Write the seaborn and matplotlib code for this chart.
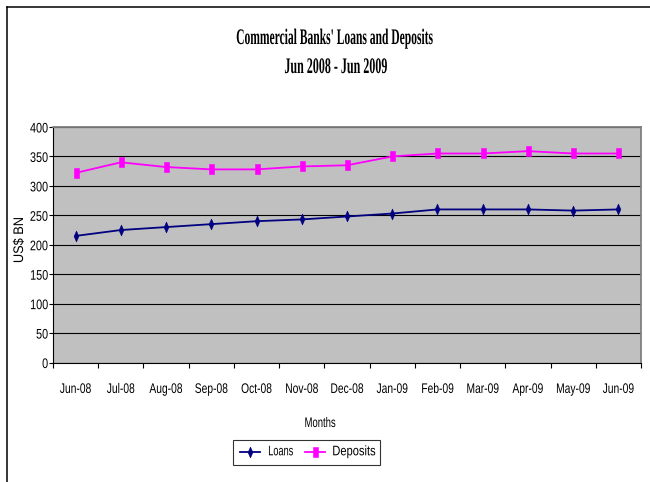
import numpy as np
import pandas as pd
import matplotlib
matplotlib.use("Agg")
import matplotlib.pyplot as plt
import seaborn as sns
from matplotlib.patheffects import AbstractPathEffect
from matplotlib.transforms import Affine2D
from matplotlib.path import Path
from matplotlib.lines import Line2D

# ---- data -------------------------------------------------------------
months = ["Jun-08", "Jul-08", "Aug-08", "Sep-08", "Oct-08", "Nov-08", "Dec-08",
          "Jan-09", "Feb-09", "Mar-09", "Apr-09", "May-09", "Jun-09"]
loans = [215, 225, 230, 235, 240, 243, 248, 253, 260, 260, 260, 258, 260]
deposits = [322, 340, 332, 328, 328, 333, 335, 350, 355, 355, 359, 355, 355]
y_ticks = [0, 50, 100, 150, 200, 250, 300, 350, 400]
series_names = ["Loans", "Deposits"]
title_lines = ["Commercial Banks' Loans and Deposits", "Jun 2008 - Jun 2009"]
x_title = "Months"
y_title = "US$ BN"


class Squeeze(AbstractPathEffect):
    """Draw text condensed along its baseline (optionally rescaled vertically)."""

    def __init__(self, sx=1.0, anchor="center", width=None, sy=1.0):
        super().__init__()
        self.sx = sx
        self.sy = sy
        self.anchor = anchor
        self.width = width

    def draw_path(self, renderer, gc, tpath, affine, rgbFace=None):
        v = tpath.vertices
        if tpath.codes is not None:
            v = v[tpath.codes != Path.CLOSEPOLY]
        if len(v) == 0:
            return
        x0, x1 = float(v[:, 0].min()), float(v[:, 0].max())
        sx = self.sx
        if self.width is not None and x1 > x0:
            m = affine.get_matrix()
            sx = self.width / ((x1 - x0) * np.hypot(m[0, 0], m[1, 0]))
        cx = {"left": x0, "right": x1, "center": 0.5 * (x0 + x1)}[self.anchor]
        t = Affine2D().translate(-cx, 0).scale(sx, self.sy).translate(cx, 0) + affine
        renderer.draw_path(gc, tpath, t, rgbFace)


plt.rcParams["font.family"] = ["Liberation Sans", "DejaVu Sans"]

W, H = 650, 482
fig = plt.figure(figsize=(W / 100, H / 100), dpi=100)
fig.patch.set_facecolor("white")

left, right, top, bottom = 53, 641, 127, 362.5
ax = fig.add_axes([left / W, 1 - bottom / H, (right - left) / W, (bottom - top) / H])

df = pd.DataFrame({"pos": np.arange(len(months)), "Loans": loans, "Deposits": deposits})

diamond = Path([(0, -0.5), (0.22, 0), (0, 0.5), (-0.22, 0), (0, -0.5)],
               [Path.MOVETO, Path.LINETO, Path.LINETO, Path.LINETO, Path.CLOSEPOLY])
tall_box = Path([(-0.25, -0.5), (0.25, -0.5), (0.25, 0.5), (-0.25, 0.5), (-0.25, -0.5)],
                [Path.MOVETO, Path.LINETO, Path.LINETO, Path.LINETO, Path.CLOSEPOLY])

navy, magenta = "#000080", "#FF00FF"
sns.lineplot(data=df, x="pos", y="Loans", ax=ax, color=navy, marker=diamond,
             markersize=7.8, markeredgecolor=navy, markerfacecolor=navy,
             markeredgewidth=0.4, linewidth=1.3)
sns.lineplot(data=df, x="pos", y="Deposits", ax=ax, color=magenta, marker=tall_box,
             markersize=7.2, markeredgecolor=magenta, markerfacecolor=magenta,
             markeredgewidth=0.4, linewidth=1.3)

ax.set_xlim(-0.5, len(months) - 0.5)
ax.set_ylim(y_ticks[0], y_ticks[-1])
ax.set_facecolor("#C0C0C0")
ax.set_yticks(y_ticks)
ax.set_yticklabels([str(v) for v in y_ticks])
ax.set_xticks(np.arange(len(months)))
ax.set_xticklabels(months)
ax.set_xticks(np.arange(-0.5, len(months), 1.0), minor=True)
ax.tick_params(axis="x", which="major", length=0, pad=14, labelsize=10, colors="black")
ax.tick_params(axis="x", which="minor", length=3.6, width=0.8, direction="out", color="black")
ax.tick_params(axis="y", length=2.9, width=0.8, pad=0.5, labelsize=10, colors="black")
ax.grid(axis="y", color="black", linewidth=0.8)
ax.grid(axis="x", visible=False)
ax.set_axisbelow(True)

for side in ("left", "bottom"):
    ax.spines[side].set_color("black")
    ax.spines[side].set_linewidth(0.8)
for side in ("top", "right"):
    ax.spines[side].set_color("#808080")
    ax.spines[side].set_linewidth(1.3)

ax.set_xlabel(x_title, fontsize=10)
ax.set_ylabel(y_title, fontsize=10)
ax.xaxis.set_label_coords((320 - left) / (right - left), -(423 - bottom) / (bottom - top))
ax.yaxis.set_label_coords((19 - left) / (right - left), (bottom - 240) / (bottom - top))
ax.xaxis.label.set_va("center")
ax.yaxis.label.set_va("center")
ax.xaxis.label.set_path_effects([Squeeze(width=30)])
ax.yaxis.label.set_path_effects([Squeeze(width=44)])

# chart title, two lines
t1 = fig.text(335 / W, 1 - 39 / H, title_lines[0], ha="center", va="center",
              fontsize=16, fontweight="bold", family=["Liberation Serif", "DejaVu Serif"])
t2 = fig.text(336 / W, 1 - 68 / H, title_lines[1], ha="center", va="center",
              fontsize=16, fontweight="bold", family=["Liberation Serif", "DejaVu Serif"])
t1.set_path_effects([Squeeze(width=196)])
t2.set_path_effects([Squeeze(width=102)])

# legend below the plot area (small layout font, glyphs drawn at 10 pt height)
leg_fs = 7.5
handles = ax.lines[:2]
leg = fig.legend(handles, series_names, loc="upper left",
                 bbox_to_anchor=(233 / W, 1 - 440 / H), bbox_transform=fig.transFigure,
                 ncol=2, fontsize=leg_fs, frameon=True, fancybox=False, shadow=False,
                 borderpad=0.7, borderaxespad=0, handlelength=1.92, handletextpad=0.75,
                 columnspacing=0.8, numpoints=1)
leg.get_frame().set_edgecolor("black")
leg.get_frame().set_linewidth(0.8)
leg.get_frame().set_facecolor("white")
leg_widths = [24, 42]
for txt, w in zip(leg.get_texts(), leg_widths):
    txt.set_path_effects([Squeeze(width=w, anchor="left", sy=10 / leg_fs)])

# outer chart frame (left and top edges)
fig.add_artist(Line2D([6.5 / W, 6.5 / W], [0, 1 - 6.5 / H], color="black",
                      linewidth=1.1, transform=fig.transFigure))
fig.add_artist(Line2D([6.5 / W, 1], [1 - 6.5 / H, 1 - 6.5 / H], color="black",
                      linewidth=1.1, transform=fig.transFigure))

fig.canvas.draw()
for lab in ax.get_xticklabels():
    lab.set_path_effects([Squeeze(0.74)])
for lab in ax.get_yticklabels():
    lab.set_path_effects([Squeeze(0.78, anchor="right")])

fig.savefig("out.png", dpi=100)
